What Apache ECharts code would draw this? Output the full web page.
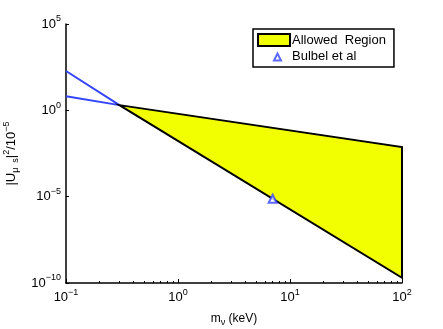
<!DOCTYPE html>
<html>
<head>
<meta charset="utf-8">
<script src="https://cdn.jsdelivr.net/npm/echarts@6/dist/echarts.min.js"></script>
<style>
  html, body { margin: 0; padding: 0; background: #fff; }
  #main { width: 443px; height: 329px; }
</style>
</head>
<body>
<div id="main"></div>
<script>
// data
const regionPoints = [[0.3, 2.0], [100, 7.5e-3], [100, 2e-10]];
const blueUpper = [[0.1, 189], [0.3, 2.0]];
const blueLower = [[0.1, 6.5], [0.3, 2.0]];
const bulbel = [[7.0, 7.6e-6]];
const xMajorTicks = [0.1, 1, 10, 100];
const xMinorTicks = [0.2, 0.3, 0.4, 0.5, 0.6, 0.7, 0.8, 0.9, 2, 3, 4, 5, 6, 7, 8, 9, 20, 30, 40, 50, 60, 70, 80, 90];
const yTicks = [1e-10, 1e-5, 1, 1e5];

const FONT = 'Liberation Sans, Arial, sans-serif';
const BLUE = '#3344ff';

const supLabel = v => {
  const e = Math.round(Math.log10(v));
  return '{b|10}{s|' + (e < 0 ? '\u2212' + (-e) : e) + '}';
};
const labelRich = {
  b: { fontSize: 13, fontFamily: FONT, color: '#000' },
  s: { fontSize: 9, fontFamily: FONT, color: '#000', padding: [0, 0, 10, 0] }
};

const chart = echarts.init(document.getElementById('main'));

const option = {
  animation: false,
  textStyle: { fontFamily: FONT },
  grid: { left: 66, right: 41, top: 24, bottom: 46, outerBoundsMode: 'none', containLabel: false },
  legend: {
    orient: 'vertical',
    left: 253,
    top: 29,
    padding: [4, 8, 4, 4],
    itemGap: 2,
    itemWidth: 32,
    itemHeight: 12,
    borderColor: '#000',
    borderWidth: 1.5,
    backgroundColor: '#fff',
    textStyle: { fontSize: 13, fontFamily: FONT, color: '#000', padding: [0, 0, 0, -3] },
    data: [
      { name: 'Allowed  Region', icon: 'rect' },
      { name: 'Bulbel et al', icon: 'path://M0,0 M32,12 M16,10.5 L19.5,3.5 L23,10.5 Z' }
    ]
  },
  xAxis: [
    {
      type: 'log',
      logBase: 10,
      min: 0.1,
      max: 100,
      name: '{a|m}{u|\u03bd}{a| (keV)}',
      nameLocation: 'middle',
      nameGap: 28,
      nameTextStyle: {
        rich: {
          a: { fontSize: 12, fontFamily: FONT, color: '#000' },
          u: { fontSize: 9, fontFamily: FONT, color: '#000', padding: [7, 0, 0, 0] }
        }
      },
      axisLine: { lineStyle: { color: '#000', width: 1.5 } },
      axisTick: { inside: true, length: 4, customValues: xMajorTicks, lineStyle: { color: '#000' } },
      axisLabel: { customValues: xMajorTicks, formatter: supLabel, rich: labelRich, margin: 5 },
      splitLine: { show: false },
      minorTick: { show: false }
    },
    {
      type: 'log',
      logBase: 10,
      min: 0.1,
      max: 100,
      position: 'bottom',
      axisLine: { show: false },
      axisTick: { inside: true, length: 2, customValues: xMinorTicks, lineStyle: { color: '#000' } },
      axisLabel: { show: false },
      splitLine: { show: false }
    }
  ],
  yAxis: {
    type: 'log',
    logBase: 10,
    min: 1e-10,
    max: 1e5,
    name: '|U{u|\u03bc  s}|{s|2}/10{s|\u22125}',
    nameLocation: 'middle',
    nameGap: 40,
    nameTextStyle: {
      fontSize: 13, fontFamily: FONT, color: '#000',
      rich: {
        u: { fontSize: 9, fontFamily: FONT, color: '#000', padding: [8, 0, 0, 0] },
        s: { fontSize: 9, fontFamily: FONT, color: '#000', padding: [0, 0, 10, 0] }
      }
    },
    axisLine: { lineStyle: { color: '#000', width: 1.5 } },
    axisTick: { inside: true, length: 3, customValues: yTicks, lineStyle: { color: '#000' } },
    axisLabel: { customValues: yTicks, formatter: supLabel, rich: labelRich, margin: 5 },
    splitLine: { show: false }
  },
  series: [
    {
      name: 'Allowed  Region',
      type: 'custom',
      data: regionPoints,
      itemStyle: { color: '#f2ff00', borderColor: '#000', borderWidth: 1.5 },
      renderItem: function (params, api) {
        if (params.dataIndex !== 0) return null;
        const pts = regionPoints.map(p => api.coord(p));
        return {
          type: 'polygon',
          shape: { points: pts },
          style: { fill: '#f2ff00', stroke: '#000', lineWidth: 2 }
        };
      },
      z: 2
    },
    {
      name: 'blueUpper',
      type: 'line',
      data: blueUpper,
      showSymbol: false,
      lineStyle: { color: BLUE, width: 2 },
      itemStyle: { color: BLUE },
      z: 1
    },
    {
      name: 'blueLower',
      type: 'line',
      data: blueLower,
      showSymbol: false,
      lineStyle: { color: BLUE, width: 2 },
      itemStyle: { color: BLUE },
      z: 1
    },
    {
      name: 'Bulbel et al',
      type: 'scatter',
      data: bulbel,
      symbol: 'triangle',
      symbolSize: 8,
      itemStyle: { color: '#fff', borderColor: BLUE, borderWidth: 2 },
      z: 3
    }
  ]
};

chart.setOption(option);
</script>
</body>
</html>
